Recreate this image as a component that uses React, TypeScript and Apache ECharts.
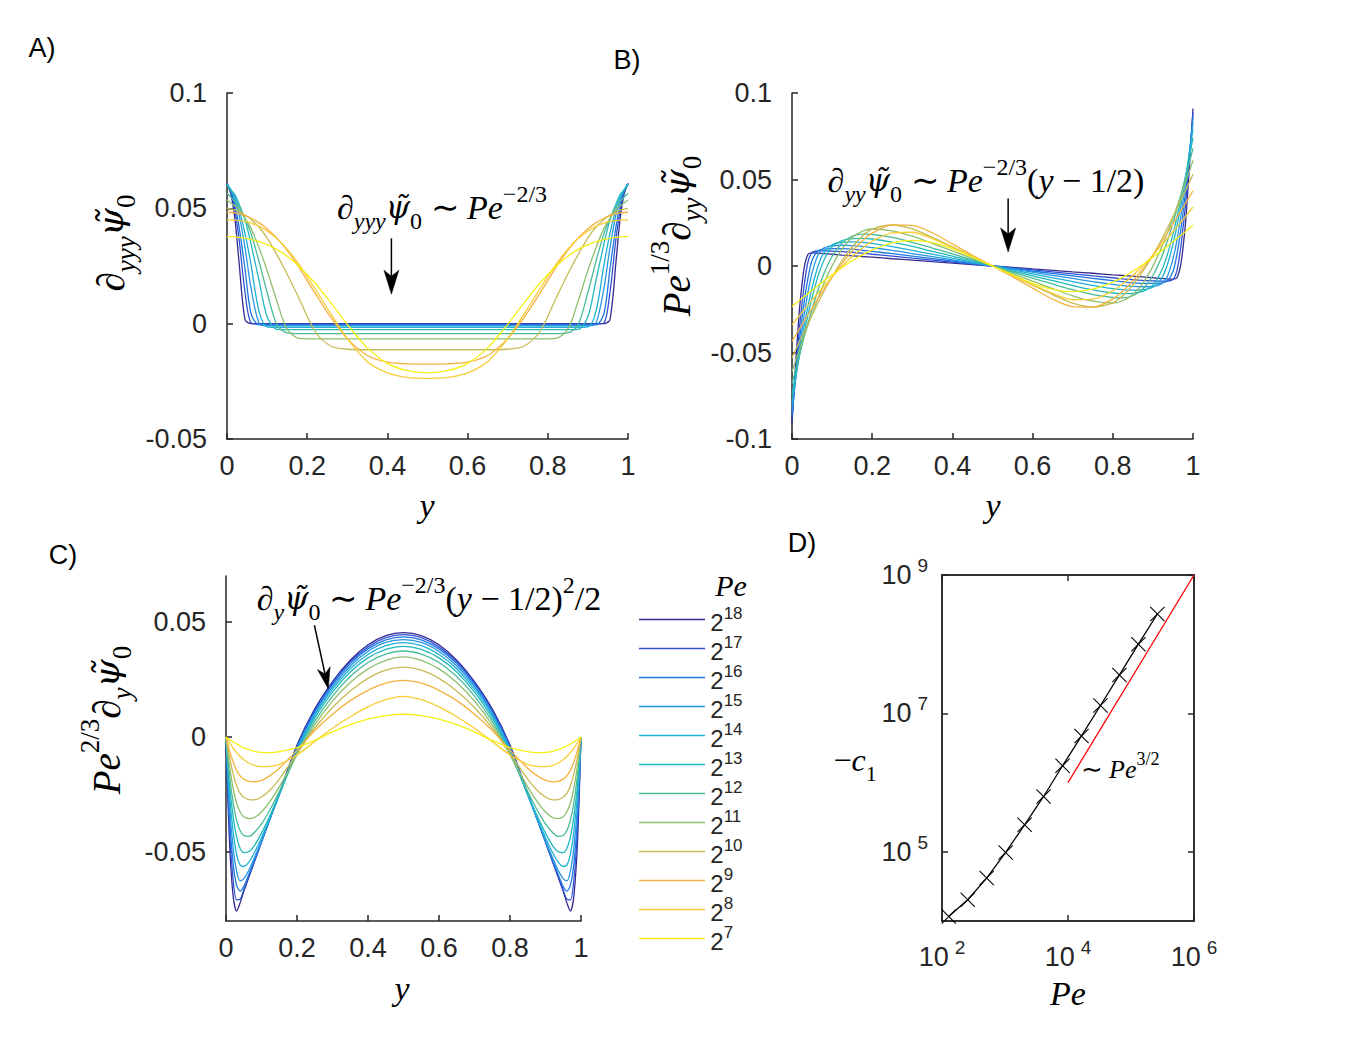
import React, { useEffect, useRef } from "react";
import * as echarts from "echarts";

const SANS = "'Liberation Sans', Arial, Helvetica, sans-serif";
const SERIF = "'Liberation Serif', 'Times New Roman', serif";
const PSI_FONT = "'DejaVu Serif', 'Liberation Serif', serif";
const AXIS_COLOR = "#262626";

// Legend / series names and colours (Pe = 2^18 ... 2^7)
const PE_LABELS = ["2^18", "2^17", "2^16", "2^15", "2^14", "2^13", "2^12", "2^11", "2^10", "2^9", "2^8", "2^7"];
const PE_COLORS = ["#352a90", "#3052d2", "#1f77e0", "#2a95e2", "#1fb0d6", "#22b8bd", "#48bb98", "#8cbf6e", "#c6bb55", "#f5b240", "#f8cc33", "#f5f014"];

// Tick values
const X_TICKS_LIN = [0, 0.2, 0.4, 0.6, 0.8, 1];
const Y_TICKS_A = [-0.05, 0, 0.05, 0.1];
const Y_TICKS_B = [-0.1, -0.05, 0, 0.05, 0.1];
const Y_TICKS_C = [-0.05, 0, 0.05];
const X_TICKS_D = [1e2, 1e4, 1e6];
const Y_TICKS_D = [1e5, 1e7, 1e9];

// ---------- Panel A : d_yyy psi0 ----------
const Y_A = [0, 0.01, 0.02, 0.03, 0.045, 0.06, 0.08, 0.1, 0.125, 0.15, 0.18, 0.22, 0.26, 0.3, 0.35, 0.4, 0.45, 0.5,
  0.55, 0.6, 0.65, 0.7, 0.74, 0.78, 0.82, 0.85, 0.875, 0.9, 0.92, 0.94, 0.955, 0.97, 0.98, 0.99, 1];
const A_18 = [0.0608, 0.056, 0.045, 0.0268, 0.0018, 0, 0, 0, 0, 0, 0, 0, 0, 0, 0, 0, 0, 0,
  0, 0, 0, 0, 0, 0, 0, 0, 0, 0, 0, 0, 0.0018, 0.0268, 0.045, 0.056, 0.0608];
const A_17 = [0.0608, 0.057, 0.049, 0.0368, 0.0135, 0.0003, -0.0002, -0.0002, -0.0002, -0.0002, -0.0002, -0.0002, -0.0002, -0.0002, -0.0002, -0.0002, -0.0002, -0.0002,
  -0.0002, -0.0002, -0.0002, -0.0002, -0.0002, -0.0002, -0.0002, -0.0002, -0.0002, -0.0002, -0.0002, 0.0003, 0.0135, 0.0368, 0.049, 0.057, 0.0608];
const A_16 = [0.0607, 0.0573, 0.0513, 0.0421, 0.0237, 0.0044, -0.0005, -0.0005, -0.0005, -0.0005, -0.0005, -0.0005, -0.0005, -0.0005, -0.0005, -0.0005, -0.0005, -0.0005,
  -0.0005, -0.0005, -0.0005, -0.0005, -0.0005, -0.0005, -0.0005, -0.0005, -0.0005, -0.0005, -0.0005, 0.0044, 0.0237, 0.0421, 0.0513, 0.0573, 0.0607];
const A_15 = [0.0606, 0.0578, 0.0534, 0.0474, 0.0329, 0.0154, 0.0002, -0.0009, -0.0009, -0.0009, -0.0009, -0.0009, -0.0009, -0.0009, -0.0009, -0.0009, -0.0009, -0.0009,
  -0.0009, -0.0009, -0.0009, -0.0009, -0.0009, -0.0009, -0.0009, -0.0009, -0.0009, -0.0009, 0.0002, 0.0154, 0.0329, 0.0474, 0.0534, 0.0578, 0.0606];
const A_14 = [0.0605, 0.058, 0.0549, 0.0499, 0.0391, 0.0254, 0.0052, -0.0014, -0.0016, -0.0016, -0.0016, -0.0016, -0.0016, -0.0016, -0.0016, -0.0016, -0.0016, -0.0016,
  -0.0016, -0.0016, -0.0016, -0.0016, -0.0016, -0.0016, -0.0016, -0.0016, -0.0016, -0.0014, 0.0052, 0.0254, 0.0391, 0.0499, 0.0549, 0.058, 0.0605];
const A_13 = [0.06, 0.0579, 0.0559, 0.0519, 0.045, 0.0345, 0.0187, 0.003, -0.0025, -0.0026, -0.0026, -0.0026, -0.0026, -0.0026, -0.0026, -0.0026, -0.0026, -0.0026,
  -0.0026, -0.0026, -0.0026, -0.0026, -0.0026, -0.0026, -0.0026, -0.0026, -0.0025, 0.003, 0.0187, 0.0345, 0.045, 0.0519, 0.0559, 0.0579, 0.06];
const A_12 = [0.0565, 0.0548, 0.053, 0.0508, 0.0456, 0.039, 0.0269, 0.0136, -0.0007, -0.004, -0.0043, -0.0043, -0.0043, -0.0043, -0.0043, -0.0043, -0.0043, -0.0043,
  -0.0043, -0.0043, -0.0043, -0.0043, -0.0043, -0.0043, -0.0043, -0.004, -0.0007, 0.0136, 0.0269, 0.039, 0.0456, 0.0508, 0.053, 0.0548, 0.0565];
const A_11 = [0.0536, 0.0523, 0.051, 0.0496, 0.0456, 0.0413, 0.0328, 0.0231, 0.0094, -0.0024, -0.0064, -0.0066, -0.0066, -0.0066, -0.0066, -0.0066, -0.0066, -0.0066,
  -0.0066, -0.0066, -0.0066, -0.0066, -0.0066, -0.0066, -0.0064, -0.0024, 0.0094, 0.0231, 0.0328, 0.0413, 0.0456, 0.0496, 0.051, 0.0523, 0.0536];
const A_10 = [0.05, 0.0497, 0.0492, 0.0485, 0.0471, 0.0452, 0.0418, 0.0372, 0.0297, 0.0215, 0.0108, -0.0035, -0.0098, -0.0111, -0.0113, -0.0113, -0.0113, -0.0113,
  -0.0113, -0.0113, -0.0113, -0.0111, -0.0098, -0.0035, 0.0108, 0.0215, 0.0297, 0.0372, 0.0418, 0.0452, 0.0471, 0.0485, 0.0492, 0.0497, 0.05];
const A_9 = [0.0483, 0.0482, 0.048, 0.0476, 0.0468, 0.0457, 0.0437, 0.0412, 0.037, 0.0318, 0.0243, 0.0131, 0.0025, -0.0065, -0.0138, -0.0167, -0.0174, -0.0175,
  -0.0174, -0.0167, -0.0138, -0.0065, 0.0025, 0.0131, 0.0243, 0.0318, 0.037, 0.0412, 0.0437, 0.0457, 0.0468, 0.0476, 0.048, 0.0482, 0.0483];
const A_8 = [0.045, 0.045, 0.0449, 0.0447, 0.0443, 0.0436, 0.0422, 0.0402, 0.0368, 0.0323, 0.0256, 0.015, 0.004, -0.0065, -0.0165, -0.0213, -0.0233, -0.0237,
  -0.0233, -0.0213, -0.0165, -0.0065, 0.004, 0.015, 0.0256, 0.0323, 0.0368, 0.0402, 0.0422, 0.0436, 0.0443, 0.0447, 0.0449, 0.045, 0.045];
const A_7 = [0.0377, 0.0377, 0.0376, 0.0374, 0.0371, 0.0365, 0.0356, 0.0343, 0.0321, 0.0292, 0.0248, 0.0175, 0.0088, -0.0003, -0.0105, -0.0172, -0.0204, -0.0213,
  -0.0204, -0.0172, -0.0105, -0.0003, 0.0088, 0.0175, 0.0248, 0.0292, 0.0321, 0.0343, 0.0356, 0.0365, 0.0371, 0.0374, 0.0376, 0.0377, 0.0377];

// ---------- Panel B : Pe^{1/3} d_yy psi0 ----------
const Y_B = [0, 0.005, 0.01, 0.015, 0.02, 0.03, 0.04, 0.05, 0.065, 0.08, 0.1, 0.125, 0.15, 0.175, 0.2, 0.25, 0.3, 0.35, 0.4, 0.45, 0.5,
  0.55, 0.6, 0.65, 0.7, 0.75, 0.8, 0.825, 0.85, 0.875, 0.9, 0.92, 0.935, 0.95, 0.96, 0.97, 0.98, 0.985, 0.99, 0.995, 1];
const B_18 = [-0.091, -0.0718, -0.0535, -0.0365, -0.0215, -0.0015, 0.0068, 0.0076, 0.0074, 0.0071, 0.0068, 0.0063, 0.0059, 0.0055, 0.0051, 0.0042, 0.0034, 0.0025, 0.0017, 0.0008, 0,
  -0.0008, -0.0017, -0.0025, -0.0034, -0.0042, -0.0051, -0.0055, -0.0059, -0.0063, -0.0068, -0.0071, -0.0074, -0.0076, -0.0068, 0.0015, 0.0215, 0.0365, 0.0535, 0.0718, 0.091];
const B_17 = [-0.0888, -0.0737, -0.059, -0.0452, -0.0325, -0.0118, 0.0025, 0.0078, 0.0087, 0.0088, 0.0086, 0.0083, 0.0079, 0.0074, 0.0068, 0.0057, 0.0045, 0.0034, 0.0022, 0.0011, 0,
  -0.0011, -0.0022, -0.0034, -0.0045, -0.0057, -0.0068, -0.0074, -0.0079, -0.0083, -0.0086, -0.0088, -0.0087, -0.0078, -0.0025, 0.0118, 0.0325, 0.0452, 0.059, 0.0737, 0.0888];
const B_16 = [-0.086, -0.0739, -0.0621, -0.0508, -0.0401, -0.0215, -0.0069, 0.0032, 0.0088, 0.0098, 0.0101, 0.01, 0.0097, 0.0091, 0.0085, 0.0071, 0.0057, 0.0043, 0.0029, 0.0014, 0,
  -0.0014, -0.0029, -0.0043, -0.0057, -0.0071, -0.0085, -0.0091, -0.0097, -0.01, -0.0101, -0.0098, -0.0088, -0.0032, 0.0069, 0.0215, 0.0401, 0.0508, 0.0621, 0.0739, 0.086];
const B_15 = [-0.083, -0.0733, -0.0638, -0.0545, -0.0456, -0.0292, -0.015, -0.004, 0.0065, 0.0105, 0.0117, 0.012, 0.0118, 0.0113, 0.0106, 0.009, 0.0072, 0.0054, 0.0036, 0.0018, 0,
  -0.0018, -0.0036, -0.0054, -0.0072, -0.009, -0.0106, -0.0113, -0.0118, -0.012, -0.0117, -0.0105, -0.0065, 0.004, 0.015, 0.0292, 0.0456, 0.0545, 0.0638, 0.0733, 0.083];
const B_14 = [-0.079, -0.0713, -0.0637, -0.0562, -0.0489, -0.0352, -0.023, -0.0125, 0, 0.0079, 0.0123, 0.0137, 0.014, 0.0137, 0.0131, 0.0112, 0.009, 0.0068, 0.0045, 0.0023, 0,
  -0.0023, -0.0045, -0.0068, -0.009, -0.0112, -0.0131, -0.0137, -0.014, -0.0137, -0.0123, -0.0079, 0, 0.0125, 0.023, 0.0352, 0.0489, 0.0562, 0.0637, 0.0713, 0.079];
const B_13 = [-0.074, -0.068, -0.062, -0.0561, -0.0503, -0.039, -0.0282, -0.0183, -0.0057, 0.0035, 0.0112, 0.0147, 0.0158, 0.016, 0.0156, 0.0138, 0.0113, 0.0085, 0.0057, 0.0029, 0,
  -0.0029, -0.0057, -0.0085, -0.0113, -0.0138, -0.0156, -0.016, -0.0158, -0.0147, -0.0112, -0.0035, 0.0057, 0.0183, 0.0282, 0.039, 0.0503, 0.0561, 0.062, 0.068, 0.074];
const B_12 = [-0.068, -0.0635, -0.059, -0.0545, -0.0501, -0.0414, -0.0329, -0.0248, -0.0137, -0.0042, 0.0055, 0.0133, 0.0172, 0.0184, 0.0182, 0.0165, 0.0137, 0.0104, 0.007, 0.0035, 0,
  -0.0035, -0.007, -0.0104, -0.0137, -0.0165, -0.0182, -0.0184, -0.0172, -0.0133, -0.0055, 0.0042, 0.0137, 0.0248, 0.0329, 0.0414, 0.0501, 0.0545, 0.059, 0.0635, 0.068];
const B_11 = [-0.061, -0.0576, -0.0542, -0.0508, -0.0474, -0.0407, -0.0342, -0.0278, -0.0186, -0.0099, 0.0001, 0.0099, 0.0165, 0.0201, 0.0214, 0.0203, 0.0172, 0.0131, 0.0088, 0.0044, 0,
  -0.0044, -0.0088, -0.0131, -0.0172, -0.0203, -0.0214, -0.0201, -0.0165, -0.0099, -0.0001, 0.0099, 0.0186, 0.0278, 0.0342, 0.0407, 0.0474, 0.0508, 0.0542, 0.0576, 0.061];
const B_10 = [-0.053, -0.0505, -0.048, -0.0455, -0.043, -0.0381, -0.0332, -0.0284, -0.0214, -0.0146, -0.0062, 0.0031, 0.011, 0.0172, 0.0213, 0.0237, 0.0215, 0.0165, 0.0111, 0.0056, 0,
  -0.0056, -0.0111, -0.0165, -0.0215, -0.0237, -0.0213, -0.0172, -0.011, -0.0031, 0.0062, 0.0146, 0.0214, 0.0284, 0.0332, 0.0381, 0.043, 0.0455, 0.048, 0.0505, 0.053];
const B_9 = [-0.0435, -0.0415, -0.0396, -0.0377, -0.0358, -0.032, -0.0282, -0.0244, -0.0187, -0.0133, -0.0064, 0.0015, 0.0086, 0.0145, 0.019, 0.0238, 0.0235, 0.0192, 0.0128, 0.0062, 0,
  -0.0062, -0.0128, -0.0192, -0.0235, -0.0238, -0.019, -0.0145, -0.0086, -0.0015, 0.0064, 0.0133, 0.0187, 0.0244, 0.0282, 0.032, 0.0358, 0.0377, 0.0396, 0.0415, 0.0435];
const B_8 = [-0.034, -0.0326, -0.0311, -0.0297, -0.0283, -0.0254, -0.0226, -0.0198, -0.0156, -0.0116, -0.0063, -0.0002, 0.0055, 0.0103, 0.0143, 0.0192, 0.0195, 0.0158, 0.0107, 0.0054, 0,
  -0.0054, -0.0107, -0.0158, -0.0195, -0.0192, -0.0143, -0.0103, -0.0055, 0.0002, 0.0063, 0.0116, 0.0156, 0.0198, 0.0226, 0.0254, 0.0283, 0.0297, 0.0311, 0.0326, 0.034];
const B_7 = [-0.0235, -0.0226, -0.0216, -0.0207, -0.0197, -0.0178, -0.0159, -0.0141, -0.0113, -0.0086, -0.0051, -0.0009, 0.003, 0.0064, 0.0093, 0.0134, 0.0148, 0.0135, 0.01, 0.0052, 0,
  -0.0052, -0.01, -0.0135, -0.0148, -0.0134, -0.0093, -0.0064, -0.003, 0.0009, 0.0051, 0.0086, 0.0113, 0.0141, 0.0159, 0.0178, 0.0197, 0.0207, 0.0216, 0.0226, 0.0235];

// ---------- Panel C : Pe^{2/3} d_y psi0 ----------
const Y_C = [0, 0.01, 0.02, 0.03, 0.04, 0.05, 0.065, 0.08, 0.1, 0.125, 0.15, 0.2, 0.25, 0.3, 0.35, 0.4, 0.45, 0.5,
  0.55, 0.6, 0.65, 0.7, 0.75, 0.8, 0.85, 0.875, 0.9, 0.92, 0.935, 0.95, 0.96, 0.97, 0.98, 0.99, 1];
const C_18 = [0, -0.046, -0.069, -0.0757, -0.072, -0.0672, -0.0607, -0.0543, -0.0457, -0.035, -0.0245, -0.0035, 0.0122, 0.0241, 0.0334, 0.0401, 0.0441, 0.0454,
  0.0441, 0.0401, 0.0334, 0.0241, 0.0122, -0.0035, -0.0245, -0.035, -0.0457, -0.0543, -0.0607, -0.0672, -0.072, -0.0757, -0.069, -0.046, 0];
const C_17 = [0, -0.04, -0.062, -0.0708, -0.0705, -0.0665, -0.0602, -0.054, -0.0456, -0.0351, -0.0248, -0.004, 0.0116, 0.0235, 0.0327, 0.0392, 0.0432, 0.0445,
  0.0432, 0.0392, 0.0327, 0.0235, 0.0116, -0.004, -0.0248, -0.0351, -0.0456, -0.054, -0.0602, -0.0665, -0.0705, -0.0708, -0.062, -0.04, 0];
const C_16 = [0, -0.035, -0.055, -0.0645, -0.067, -0.065, -0.0595, -0.0536, -0.0455, -0.0352, -0.025, -0.0045, 0.011, 0.0228, 0.0319, 0.0383, 0.0422, 0.0435,
  0.0422, 0.0383, 0.0319, 0.0228, 0.011, -0.0045, -0.025, -0.0352, -0.0455, -0.0536, -0.0595, -0.065, -0.067, -0.0645, -0.055, -0.035, 0];
const C_15 = [0, -0.03, -0.048, -0.0585, -0.0625, -0.0617, -0.0577, -0.0525, -0.0451, -0.0351, -0.0252, -0.0052, 0.0102, 0.0219, 0.0309, 0.0372, 0.0411, 0.0423,
  0.0411, 0.0372, 0.0309, 0.0219, 0.0102, -0.0052, -0.0252, -0.0351, -0.0451, -0.0525, -0.0577, -0.0617, -0.0625, -0.0585, -0.048, -0.03, 0];
const C_14 = [0, -0.025, -0.041, -0.051, -0.0557, -0.0563, -0.0543, -0.0503, -0.0438, -0.0347, -0.0252, -0.006, 0.0093, 0.0208, 0.0297, 0.0359, 0.0397, 0.041,
  0.0397, 0.0359, 0.0297, 0.0208, 0.0093, -0.006, -0.0252, -0.0347, -0.0438, -0.0503, -0.0543, -0.0563, -0.0557, -0.051, -0.041, -0.025, 0];
const C_13 = [0, -0.021, -0.0345, -0.0435, -0.0485, -0.0503, -0.0498, -0.0472, -0.0418, -0.0337, -0.0248, -0.0068, 0.0082, 0.0195, 0.0283, 0.0344, 0.0381, 0.0394,
  0.0381, 0.0344, 0.0283, 0.0195, 0.0082, -0.0068, -0.0248, -0.0337, -0.0418, -0.0472, -0.0498, -0.0503, -0.0485, -0.0435, -0.0345, -0.021, 0];
const C_12 = [0, -0.0165, -0.0285, -0.0363, -0.0408, -0.0428, -0.0432, -0.0415, -0.0378, -0.0313, -0.0237, -0.0075, 0.0068, 0.0178, 0.0263, 0.0324, 0.036, 0.0374,
  0.036, 0.0324, 0.0263, 0.0178, 0.0068, -0.0075, -0.0237, -0.0313, -0.0378, -0.0415, -0.0432, -0.0428, -0.0408, -0.0363, -0.0285, -0.0165, 0];
const C_11 = [0, -0.0125, -0.0222, -0.0288, -0.0326, -0.0347, -0.0355, -0.035, -0.0326, -0.0278, -0.0217, -0.0077, 0.0053, 0.0156, 0.0237, 0.0296, 0.0333, 0.0348,
  0.0333, 0.0296, 0.0237, 0.0156, 0.0053, -0.0077, -0.0217, -0.0278, -0.0326, -0.035, -0.0355, -0.0347, -0.0326, -0.0288, -0.0222, -0.0125, 0];
const C_10 = [0, -0.0088, -0.016, -0.0213, -0.0245, -0.0262, -0.0272, -0.0273, -0.0261, -0.0229, -0.0183, -0.0072, 0.0038, 0.0128, 0.02, 0.0255, 0.0291, 0.0304,
  0.0291, 0.0255, 0.02, 0.0128, 0.0038, -0.0072, -0.0183, -0.0229, -0.0261, -0.0273, -0.0272, -0.0262, -0.0245, -0.0213, -0.016, -0.0088, 0];
const C_9 = [0, -0.0058, -0.0108, -0.0145, -0.0169, -0.0183, -0.0193, -0.0195, -0.0189, -0.0167, -0.0136, -0.0057, 0.0028, 0.0099, 0.0158, 0.0203, 0.0234, 0.0246,
  0.0234, 0.0203, 0.0158, 0.0099, 0.0028, -0.0057, -0.0136, -0.0167, -0.0189, -0.0195, -0.0193, -0.0183, -0.0169, -0.0145, -0.0108, -0.0058, 0];
const C_8 = [0, -0.0025, -0.0048, -0.0068, -0.0085, -0.0099, -0.0114, -0.0123, -0.0129, -0.0128, -0.0119, -0.0078, -0.002, 0.0038, 0.0088, 0.0131, 0.0162, 0.0177,
  0.0162, 0.0131, 0.0088, 0.0038, -0.002, -0.0078, -0.0119, -0.0128, -0.0129, -0.0123, -0.0114, -0.0099, -0.0085, -0.0068, -0.0048, -0.0025, 0];
const C_7 = [0, -0.0011, -0.0021, -0.003, -0.0039, -0.0046, -0.0055, -0.0062, -0.0067, -0.0068, -0.0064, -0.0046, -0.0015, 0.0022, 0.0054, 0.0078, 0.0093, 0.0099,
  0.0093, 0.0078, 0.0054, 0.0022, -0.0015, -0.0046, -0.0064, -0.0068, -0.0067, -0.0062, -0.0055, -0.0046, -0.0039, -0.003, -0.0021, -0.0011, 0];

// ---------- Panel D : -c1 vs Pe ----------
const PE_D = [128, 256, 512, 1024, 2048, 4096, 8192, 16384, 32768, 65536, 131072, 262144];
const C1_D = [1.16e4, 2.03e4, 4.17e4, 9.8e4, 2.45e5, 6.3e5, 1.75e6, 4.73e6, 1.3e7, 3.6e7, 1.0e8, 2.73e8];
const REF_PE = [1e4, 1e6];
const REF_C1 = [1e6, 1e9];

// Annotation arrows (data coordinates of the panel they belong to)
const ARROWS = [
  { grid: 0, from: [0.41, 0.037], to: [0.41, 0.0128], len: 24, hw: 7.5 },
  { grid: 1, from: [0.539, 0.039], to: [0.539, 0.0081], len: 24, hw: 7.5 },
  { grid: 2, from: [0.249, 0.0486], to: [0.288, 0.021], len: 21, hw: 6.5 },
];

const A_SETS = [A_18, A_17, A_16, A_15, A_14, A_13, A_12, A_11, A_10, A_9, A_8, A_7];
const B_SETS = [B_18, B_17, B_16, B_15, B_14, B_13, B_12, B_11, B_10, B_9, B_8, B_7];
const C_SETS = [C_18, C_17, C_16, C_15, C_14, C_13, C_12, C_11, C_10, C_9, C_8, C_7];

const CROSS = "path://M0,1L1,0L10,9L19,0L20,1L11,10L20,19L19,20L10,11L1,20L0,19L9,10Z";

function mathRich(size: number) {
  const s = Math.round(size * 0.7);
  const base = { fontFamily: SERIF, fill: "#000", color: "#000" };
  return {
    r: { ...base, fontSize: size, lineHeight: Math.round(size * 1.5) },
    i: { ...base, fontSize: size, fontStyle: "italic", lineHeight: Math.round(size * 1.5) },
    p: { ...base, fontFamily: PSI_FONT, fontSize: Math.round(size * 0.92), fontStyle: "italic", lineHeight: Math.round(size * 1.5) },
    sb: { ...base, fontSize: s, fontStyle: "italic", lineHeight: Math.round(size * 1.05), verticalAlign: "bottom" },
    sbr: { ...base, fontSize: s, lineHeight: Math.round(size * 1.05), verticalAlign: "bottom" },
    sp: { ...base, fontSize: s, lineHeight: s, verticalAlign: "top" },
  };
}

function textEl(x: number, y: number, text: string, size: number, rotation = 0) {
  return {
    type: "text",
    x,
    y,
    rotation,
    silent: true,
    z: 100,
    style: {
      text,
      rich: mathRich(size),
      fontFamily: SERIF,
      fontSize: size,
      fill: "#000",
      align: "center",
      verticalAlign: "middle",
      textAlign: "center",
      textVerticalAlign: "middle",
    },
  };
}

const PSI = "\u03c8\u0303";

function curveSeries(xs: number[], sets: number[][], gi: number) {
  return sets.map((vals, i) => ({
    type: "line",
    name: PE_LABELS[i],
    xAxisIndex: gi,
    yAxisIndex: gi,
    data: vals.map((v, j) => [xs[j], v]),
    symbol: "none",
    showSymbol: false,
    smooth: 0.3,
    lineStyle: { width: 1.3, color: PE_COLORS[i] },
    itemStyle: { color: PE_COLORS[i] },
    silent: true,
    animation: false,
  }));
}

const axisLineStyle = { color: AXIS_COLOR, width: 1.5 };
const tickLabel = { color: AXIS_COLOR, fontSize: 27, fontFamily: SANS };

function linAxis(gi: number, min: number, max: number, ticks: number[], isX: boolean) {
  return {
    type: "value",
    gridIndex: gi,
    min,
    max,
    axisLine: { show: true, onZero: false, lineStyle: axisLineStyle },
    axisTick: { show: true, inside: true, length: 6, lineStyle: axisLineStyle, customValues: ticks },
    axisLabel: { ...tickLabel, customValues: ticks, margin: isX ? 13 : 20 },
    splitLine: { show: false },
  };
}

const POW_RICH = {
  b: { fontSize: 27, fontFamily: SANS, color: AXIS_COLOR, lineHeight: 38 },
  s: { fontSize: 19, fontFamily: SANS, color: AXIS_COLOR, lineHeight: 19, verticalAlign: "top", padding: [0, 0, 0, 6] },
};
const powLabel = (v: number) => `{b|10}{s|${Math.round(Math.log10(v))}}`;

function logAxis(gi: number, min: number, max: number, ticks: number[], position: string, labels: boolean) {
  return {
    type: "log",
    logBase: 10,
    gridIndex: gi,
    min,
    max,
    position,
    axisLine: { show: true, onZero: false, lineStyle: axisLineStyle },
    axisTick: { show: true, inside: true, length: 6, lineStyle: axisLineStyle, customValues: ticks },
    minorTick: { show: false },
    axisLabel: labels
      ? { customValues: ticks, formatter: powLabel, rich: POW_RICH, margin: position === "bottom" ? 17 : 14 }
      : { show: false },
    splitLine: { show: false },
  };
}

export default function App() {
  const ref = useRef<HTMLDivElement>(null);
  useEffect(() => {
    if (!ref.current) return;
    const chart = echarts.init(ref.current, null, { renderer: "svg", width: 1350, height: 1050 });
    const option: any = {
      animation: false,
      backgroundColor: "#ffffff",
      grid: [
        { left: 227, top: 93, width: 401, height: 346 },
        { left: 792, top: 93, width: 401, height: 346 },
        { left: 226, top: 576, width: 355, height: 345 },
        { left: 942, top: 575, width: 252, height: 346, show: true, borderColor: AXIS_COLOR, borderWidth: 1.5, backgroundColor: "rgba(0,0,0,0)" },
      ],
      xAxis: [
        linAxis(0, 0, 1, X_TICKS_LIN, true),
        linAxis(1, 0, 1, X_TICKS_LIN, true),
        linAxis(2, 0, 1, X_TICKS_LIN, true),
        logAxis(3, 1e2, 1e6, X_TICKS_D, "bottom", true),
        logAxis(3, 1e2, 1e6, X_TICKS_D, "top", false),
      ],
      yAxis: [
        linAxis(0, -0.05, 0.1, Y_TICKS_A, false),
        linAxis(1, -0.1, 0.1, Y_TICKS_B, false),
        linAxis(2, -0.08, 0.07, Y_TICKS_C, false),
        logAxis(3, 1e4, 1e9, Y_TICKS_D, "left", true),
        logAxis(3, 1e4, 1e9, Y_TICKS_D, "right", false),
      ],
      legend: {
        data: PE_LABELS,
        orient: "vertical",
        left: 639,
        top: 605,
        padding: 0,
        itemWidth: 66,
        itemHeight: 1.5,
        itemGap: 0,
        icon: "rect",
        selectedMode: false,
        formatter: (n: string) => `{h| }{b|2}{s|${n.slice(2)}}`,
        textStyle: {
          rich: {
            h: { fontSize: 1, lineHeight: 29 },
            b: { fontSize: 24, fontFamily: SANS, color: AXIS_COLOR, lineHeight: 19, verticalAlign: "bottom" },
            s: { fontSize: 17, fontFamily: SANS, color: AXIS_COLOR, lineHeight: 17, verticalAlign: "top" },
          },
        },
      },
      series: [
        ...curveSeries(Y_A, A_SETS, 0),
        ...curveSeries(Y_B, B_SETS, 1),
        ...curveSeries(Y_C, C_SETS, 2),
        {
          type: "line",
          name: "c1",
          xAxisIndex: 3,
          yAxisIndex: 3,
          data: PE_D.map((p, i) => [p, C1_D[i]]),
          symbol: CROSS,
          symbolSize: 15,
          showSymbol: true,
          lineStyle: { color: "#000", width: 1.3 },
          itemStyle: { color: "#000" },
          silent: true,
          clip: false,
        },
        {
          type: "line",
          name: "ref",
          xAxisIndex: 3,
          yAxisIndex: 3,
          data: REF_PE.map((p, i) => [p, REF_C1[i]]),
          symbol: "none",
          lineStyle: { color: "#ff0000", width: 1.3 },
          silent: true,
        },
      ],
    };
    chart.setOption(option);

    const arrowEls: any[] = [];
    ARROWS.forEach((a) => {
      const p0 = chart.convertToPixel({ gridIndex: a.grid } as any, a.from) as number[];
      const p1 = chart.convertToPixel({ gridIndex: a.grid } as any, a.to) as number[];
      const dx = p1[0] - p0[0];
      const dy = p1[1] - p0[1];
      const L = Math.hypot(dx, dy);
      const ux = dx / L, uy = dy / L;
      const nx = -uy, ny = ux;
      const bx = p1[0] - a.len * ux, by = p1[1] - a.len * uy;
      const notch = [p1[0] - (a.len - 6) * ux, p1[1] - (a.len - 6) * uy];
      arrowEls.push({
        type: "polyline",
        silent: true,
        z: 100,
        shape: { points: [p0, notch] },
        style: { stroke: "#000", lineWidth: 1.5, fill: null },
      });
      arrowEls.push({
        type: "polygon",
        silent: true,
        z: 100,
        shape: { points: [p1, [bx + a.hw * nx, by + a.hw * ny], notch, [bx - a.hw * nx, by - a.hw * ny]] },
        style: { fill: "#000", stroke: "#000", lineWidth: 0.5 },
      });
    });

    const labelStyle = { fontFamily: SANS, fontSize: 27, fill: "#000", align: "center", verticalAlign: "middle", textAlign: "center", textVerticalAlign: "middle" };
    const panelLabels = [
      { x: 42, y: 48, t: "A)" },
      { x: 627, y: 60, t: "B)" },
      { x: 63, y: 555, t: "C)" },
      { x: 802, y: 543, t: "D)" },
    ].map((p) => ({ type: "text", x: p.x, y: p.y, silent: true, style: { ...labelStyle, text: p.t } }));

    const texts = [
      textEl(442, 207, `{r|\u2202}{sb|yyy}{p|${PSI}}{sbr|0}{r| \u223c }{i|Pe}{sp|\u22122/3}`, 34),
      textEl(986, 180, `{r|\u2202}{sb|yy}{p|${PSI}}{sbr|0}{r| \u223c }{i|Pe}{sp|\u22122/3}{r|(}{i|y}{r| \u2212 1/2)}`, 34),
      textEl(429, 598, `{r|\u2202}{sb|y}{p|${PSI}}{sbr|0}{r| \u223c }{i|Pe}{sp|\u22122/3}{r|(}{i|y}{r| \u2212 1/2)}{sp|2}{r|/2}`, 34),
      textEl(110, 243, `{r|\u2202}{sb|yyy}{p|${PSI}}{sbr|0}`, 39, Math.PI / 2),
      textEl(676, 236, `{i|Pe}{sp|1/3}{r|\u2202}{sb|yy}{p|${PSI}}{sbr|0}`, 39, Math.PI / 2),
      textEl(106, 720, `{i|Pe}{sp|2/3}{r|\u2202}{sb|y}{p|${PSI}}{sbr|0}`, 39, Math.PI / 2),
      textEl(855, 760, `{r|\u2212}{i|c}{sbr|1}`, 32),
      textEl(427, 505, `{i|y}`, 34),
      textEl(993, 505, `{i|y}`, 34),
      textEl(402, 988, `{i|y}`, 34),
      textEl(1068, 993, `{i|Pe}`, 34),
      textEl(731, 585, `{i|Pe}`, 30),
      textEl(1120, 769, `{r|\u223c }{i|Pe}{sp|3/2}`, 26),
    ];

    chart.setOption({ graphic: [...panelLabels, ...texts, ...arrowEls] });
    return () => chart.dispose();
  }, []);
  return <div ref={ref} style={{ position: "absolute", left: 0, top: 0, width: 1350, height: 1050, background: "#fff" }} />;
}
